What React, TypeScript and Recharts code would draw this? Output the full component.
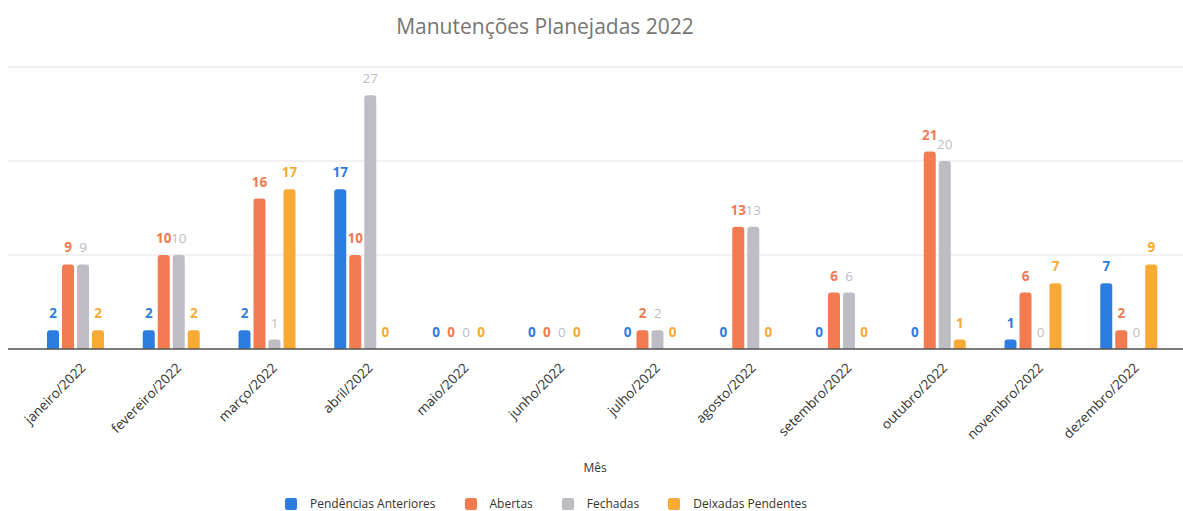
import React from "react";
import { BarChart, Bar, XAxis, YAxis, CartesianGrid, LabelList } from "recharts";

const months = [
  "janeiro/2022",
  "fevereiro/2022",
  "março/2022",
  "abril/2022",
  "maio/2022",
  "junho/2022",
  "julho/2022",
  "agosto/2022",
  "setembro/2022",
  "outubro/2022",
  "novembro/2022",
  "dezembro/2022",
];

const pendenciasAnteriores = [2, 2, 2, 17, 0, 0, 0, 0, 0, 0, 1, 7];
const abertas = [9, 10, 16, 10, 0, 0, 2, 13, 6, 21, 6, 2];
const fechadas = [9, 10, 1, 27, 0, 0, 2, 13, 6, 20, 0, 0];
const deixadasPendentes = [2, 2, 17, 0, 0, 0, 0, 0, 0, 1, 7, 9];

const yTicks = [0, 10, 20, 30];

const FONT = "'Open Sans', 'Noto Sans', sans-serif";

const SERIES = [
  { key: "pend", name: "Pendências Anteriores", color: "#2b7de0", bold: true },
  { key: "abertas", name: "Abertas", color: "#f27b52", bold: true },
  { key: "fechadas", name: "Fechadas", color: "#bdbdc3", bold: false },
  { key: "deixadas", name: "Deixadas Pendentes", color: "#f8aa35", bold: true },
];

const data = months.map((m, i) => ({
  mes: m,
  pend: pendenciasAnteriores[i],
  abertas: abertas[i],
  fechadas: fechadas[i],
  deixadas: deixadasPendentes[i],
}));

// rotated month label, anchored at its end near the tick
const MonthTick = (props: any) => {
  const { x, y, payload } = props;
  return (
    <g transform={`translate(${x + 4},${y + 5})`}>
      <text
        x={0}
        y={0}
        dy="0.7em"
        textAnchor="end"
        transform="rotate(-45)"
        fill="#333"
        fontSize={13.5}
        fontFamily={FONT}
      >
        {payload.value}
      </text>
    </g>
  );
};

export default function App() {
  return (
    <div
      style={{
        position: "absolute",
        left: 0,
        top: 0,
        width: 1183,
        height: 511,
        background: "#fff",
        fontFamily: FONT,
      }}
    >
      <div
        style={{
          position: "absolute",
          left: 545,
          top: 12,
          transform: "translateX(-50%)",
          fontSize: 21,
          color: "#757575",
          whiteSpace: "nowrap",
        }}
      >
        Manutenções Planejadas 2022
      </div>

      <BarChart
        width={1183}
        height={511}
        data={data}
        margin={{ top: 67, right: 0, left: 8, bottom: 62 }}
        barSize={12}
        barGap={3}
      >
        <CartesianGrid vertical={false} stroke="#e3e3e3" />
        <YAxis hide domain={[0, 30]} ticks={yTicks} />
        <XAxis
          dataKey="mes"
          interval={0}
          tick={<MonthTick />}
          tickLine={false}
          axisLine={{ stroke: "#555", strokeWidth: 1.5 }}
          padding={{ left: 20, right: 6 }}
          height={100}
        />
        {SERIES.map((s) => (
          <Bar
            key={s.key}
            dataKey={s.key}
            name={s.name}
            fill={s.color}
            radius={[3, 3, 0, 0]}
            minPointSize={0.01}
            isAnimationActive={false}
          >
            <LabelList
              dataKey={s.key}
              position="top"
              offset={12}
              fill={s.color}
              fontSize={13.5}
              fontWeight={s.bold ? 700 : 400}
              fontFamily={FONT}
            />
          </Bar>
        ))}
      </BarChart>

      <div
        style={{
          position: "absolute",
          left: 595,
          top: 459,
          transform: "translateX(-50%)",
          fontSize: 12,
          color: "#333",
        }}
      >
        Mês
      </div>

      <div
        style={{
          position: "absolute",
          left: 546,
          top: 495,
          transform: "translateX(-50%)",
          display: "flex",
          alignItems: "center",
          gap: 29,
          fontSize: 12,
          color: "#333",
          whiteSpace: "nowrap",
        }}
      >
        {SERIES.map((s) => (
          <div key={s.key} style={{ display: "flex", alignItems: "center" }}>
            <span
              style={{
                display: "inline-block",
                width: 12,
                height: 12,
                background: s.color,
                borderRadius: 2,
                marginRight: 13,
              }}
            />
            <span>{s.name}</span>
          </div>
        ))}
      </div>
    </div>
  );
}
